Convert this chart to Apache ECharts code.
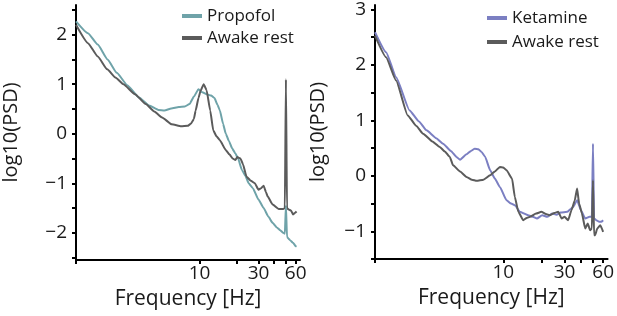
<!DOCTYPE html>
<html>
<head>
<meta charset="utf-8">
<script src="https://cdn.jsdelivr.net/npm/echarts@6/dist/echarts.min.js"></script>
<style>
  html, body { margin: 0; padding: 0; background: #fff; }
  #chart { width: 617px; height: 316px; }
</style>
</head>
<body>
<div id="chart"></div>
<script>
// left panel: propofol vs awake rest
const propofolFreq = [1, 1.25, 1.5, 1.8, 2.14, 2.6, 3.24, 3.9, 4.65, 5.2, 5.9, 6.8, 7.6, 8.3, 9.0, 9.8, 10.5, 11.6, 12.4, 13.2, 14.0, 14.6, 15.5, 16.3, 17.3, 18.4, 19.5, 20.5, 22, 23.5, 25, 27, 30, 33, 36, 39, 42.5, 45, 47.5, 49, 50, 51, 52.5, 54, 57, 60, 61]
const propofolPsd = [2.27, 2.03, 1.8, 1.5, 1.23, 0.98, 0.73, 0.57, 0.48, 0.47, 0.51, 0.54, 0.55, 0.6, 0.75, 0.9, 0.84, 0.79, 0.77, 0.72, 0.58, 0.47, 0.2, 0.0, -0.15, -0.3, -0.4, -0.5, -0.73, -0.85, -1.0, -1.1, -1.33, -1.5, -1.67, -1.8, -1.9, -1.95, -2.0, -2.02, -1.45, -2.08, -2.12, -2.15, -2.2, -2.27, -2.28]
const awakeLFreq = [1, 1.25, 1.5, 1.79, 2.1, 2.42, 3.0, 3.67, 4.3, 4.97, 5.95, 7.1, 8.0, 8.5, 9.0, 9.3, 9.8, 10.2, 10.8, 11.4, 12.2, 12.9, 13.7, 14.6, 16.3, 17.5, 18.5, 19.5, 20.2, 21.4, 22.5, 24, 26, 28, 30, 31.5, 33, 34.5, 35.6, 39, 43.7, 47.6, 49, 50, 51, 52.5, 55, 57, 59, 61]
const awakeLPsd = [2.2, 1.83, 1.56, 1.3, 1.13, 1.0, 0.8, 0.6, 0.45, 0.33, 0.19, 0.15, 0.16, 0.2, 0.3, 0.47, 0.72, 0.87, 1.0, 0.88, 0.47, 0.07, -0.05, -0.13, -0.33, -0.42, -0.5, -0.53, -0.47, -0.5, -0.62, -0.87, -0.95, -1.0, -1.13, -1.1, -1.05, -1.18, -1.27, -1.43, -1.52, -1.52, -1.5, 1.1, -1.5, -1.53, -1.55, -1.63, -1.6, -1.57]

// right panel: ketamine vs awake rest
const ketamineFreq = [1, 1.22, 1.46, 1.86, 2.2, 2.52, 3.0, 3.39, 3.9, 4.32, 4.6, 5.17, 5.6, 6.0, 6.4, 6.77, 7.2, 7.9, 8.6, 9.4, 10.6, 11.5, 12.3, 13.5, 14.5, 15.6, 17, 18.3, 20.1, 22, 24, 26, 28, 31.5, 33.5, 35, 37.6, 40.3, 43.5, 47, 49, 50, 51, 53, 56, 58, 60]
const ketaminePsd = [2.59, 2.23, 1.78, 1.18, 0.98, 0.82, 0.68, 0.58, 0.45, 0.34, 0.29, 0.39, 0.45, 0.49, 0.48, 0.43, 0.35, 0.1, -0.05, -0.2, -0.44, -0.5, -0.53, -0.65, -0.68, -0.71, -0.74, -0.77, -0.71, -0.74, -0.68, -0.7, -0.66, -0.65, -0.6, -0.56, -0.44, -0.62, -0.77, -0.74, -0.74, 0.58, -0.77, -0.8, -0.83, -0.83, -0.8]
const awakeRFreq = [1, 1.22, 1.46, 1.8, 2.1, 2.37, 2.8, 3.2, 3.5, 3.83, 4.06, 4.6, 5.17, 5.7, 6.2, 7.0, 7.9, 8.6, 9.4, 10.0, 10.6, 11.7, 12.3, 13.1, 14.3, 15.2, 16.2, 18, 19.8, 21.5, 23, 25, 26.8, 28.5, 30, 32, 34, 36, 37.6, 39, 41, 43.5, 45.5, 47.5, 49, 50, 51, 52, 54, 57, 60]
const awakeRPsd = [2.53, 2.14, 1.72, 1.09, 0.9, 0.76, 0.62, 0.52, 0.44, 0.34, 0.19, 0.08, -0.02, -0.07, -0.09, -0.07, 0.01, 0.08, 0.16, 0.15, 0.1, -0.05, -0.38, -0.65, -0.8, -0.76, -0.74, -0.68, -0.65, -0.69, -0.71, -0.67, -0.65, -0.77, -0.74, -0.8, -0.62, -0.45, -0.23, -0.5, -0.68, -0.95, -0.86, -0.98, -0.95, -0.08, -1.07, -1.07, -0.95, -0.89, -1.01]

// ticks
const freqTicks = [1, 10, 20, 30, 40, 50, 60]
const freqLabels = [10, 30, 60]
const leftYTicks = [-2.5, -2, -1.5, -1, -0.5, 0, 0.5, 1, 1.5, 2, 2.5]
const leftYLabels = [-2, -1, 0, 1, 2]
const rightYTicks = [-1.5, -1, -0.5, 0, 0.5, 1, 1.5, 2, 2.5, 3]
const rightYLabels = [-1, 0, 1, 2, 3]

const FONT = 'Open Sans'
const TEAL = '#6fa3a9'
const GRAY = '#5b5b5b'
const PURPLE = '#7b7fc2'

const zip = (xs, ys) => xs.map((x, i) => [x, ys[i]])

const xAxisCfg = (gridIndex) => ({
  type: 'log',
  gridIndex,
  min: 1,
  max: 65,
  name: 'Frequency [Hz]',
  nameLocation: 'middle',
  nameGap: 29,
  nameTextStyle: { fontFamily: FONT, fontSize: 21, color: '#1a1a1a' },
  axisLine: { onZero: false, lineStyle: { color: '#000', width: 2 } },
  axisTick: { customValues: freqTicks, length: 4, lineStyle: { color: '#000', width: 2 } },
  axisLabel: { customValues: freqLabels, fontFamily: FONT, fontSize: 19, color: '#1a1a1a', margin: 4 },
  splitLine: { show: false },
  minorTick: { show: false }
})

const yAxisCfg = (gridIndex, min, max, ticks, labels, gap) => ({
  type: 'value',
  gridIndex,
  min,
  max,
  name: 'log10(PSD)',
  nameLocation: 'middle',
  nameGap: gap,
  nameTextStyle: { fontFamily: FONT, fontSize: 20, color: '#1a1a1a' },
  axisLine: { show: true, onZero: false, lineStyle: { color: '#000', width: 2 } },
  axisTick: { customValues: ticks, length: 4, lineStyle: { color: '#000', width: 2 } },
  axisLabel: {
    customValues: labels,
    fontFamily: FONT, fontSize: 19, color: '#1a1a1a', margin: 9,
    formatter: v => String(v).replace('-', '\u2212')
  },
  splitLine: { show: false }
})

const lineSeries = (name, color, data, idx) => ({
  name,
  type: 'line',
  xAxisIndex: idx,
  yAxisIndex: idx,
  data,
  showSymbol: false,
  smooth: 0.15,
  smoothMonotone: 'x',
  lineStyle: { color, width: 2 },
  itemStyle: { color }
})

const myChart = echarts.init(document.getElementById('chart'))
myChart.setOption({
  animation: false,
  grid: [
    { left: 67.5, top: 5, width: 232.5, height: 255 },
    { left: 375, top: 5, width: 234, height: 254 }
  ],
  legend: [
    {
      data: ['Propofol', 'Awake rest'],
      orient: 'vertical', left: 177, top: 2, itemGap: 4,
      icon: 'rect', itemWidth: 20, itemHeight: 4,
      textStyle: { fontFamily: FONT, fontSize: 17, lineHeight: 18, color: '#1a1a1a' }
    },
    {
      data: ['Ketamine', 'Awake rest'],
      orient: 'vertical', left: 482, top: 4, itemGap: 6,
      icon: 'rect', itemWidth: 20, itemHeight: 4,
      textStyle: { fontFamily: FONT, fontSize: 17, lineHeight: 18, color: '#1a1a1a' }
    }
  ],
  xAxis: [xAxisCfg(0), xAxisCfg(1)],
  yAxis: [
    yAxisCfg(0, -2.55, 2.6, leftYTicks, leftYLabels, 55),
    yAxisCfg(1, -1.5, 3.08, rightYTicks, rightYLabels, 47)
  ],
  series: [
    lineSeries('Propofol', TEAL, zip(propofolFreq, propofolPsd), 0),
    lineSeries('Awake rest', GRAY, zip(awakeLFreq, awakeLPsd), 0),
    lineSeries('Ketamine', PURPLE, zip(ketamineFreq, ketaminePsd), 1),
    lineSeries('Awake rest', GRAY, zip(awakeRFreq, awakeRPsd), 1)
  ]
})
</script>
</body>
</html>
